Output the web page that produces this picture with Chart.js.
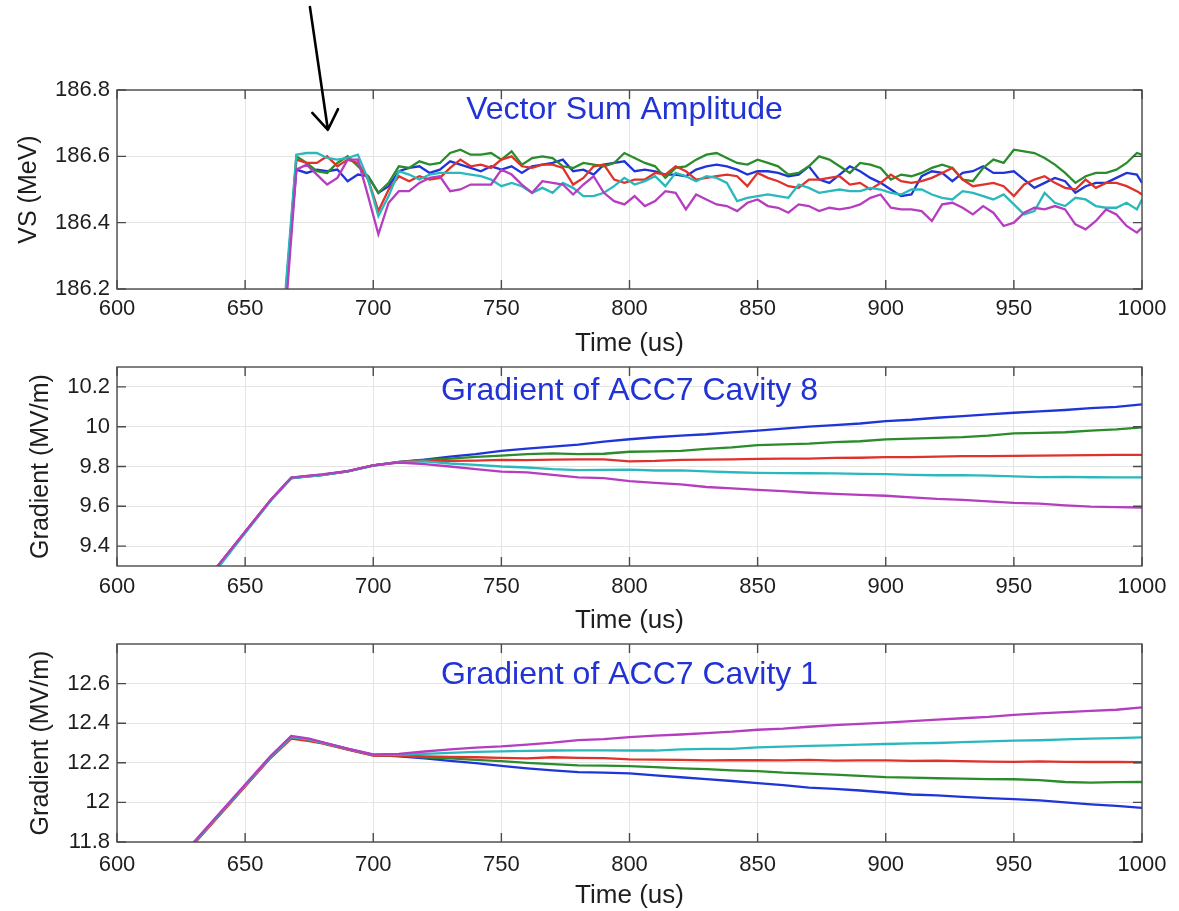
<!DOCTYPE html>
<html>
<head>
<meta charset="utf-8">
<script src="https://cdn.jsdelivr.net/npm/chart.js@4.4.1/dist/chart.umd.min.js"></script>
<style>
  body { margin: 0; background: #fff; }
  #page { position: relative; width: 1179px; height: 911px; overflow: hidden; }
  #page canvas { position: absolute; left: 0; }
</style>
</head>
<body>
<div id="page">
  <canvas id="vsChart" width="1179" height="360" style="top:0px"></canvas>
  <canvas id="cav8Chart" width="1179" height="310" style="top:330px"></canvas>
  <canvas id="cav1Chart" width="1179" height="297" style="top:614px"></canvas>
</div>
<script>
// tick labels
const timeTicks = [600, 650, 700, 750, 800, 850, 900, 950, 1000];
const vsTicks = [186.2, 186.4, 186.6, 186.8];
const cav8Ticks = [9.4, 9.6, 9.8, 10, 10.2];
const cav1Ticks = [11.8, 12, 12.2, 12.4, 12.6];

// the arrow drawn over the top panel (time, MeV)
const arrowFrom = [675.3, 187.05];
const arrowTo = [682.3, 186.68];

// vector sum amplitude, one value per entry of vsTime
const vsTime = [662, 666, 670, 674, 678, 682, 686, 690, 694, 698,
  702, 706, 710, 714, 718, 722, 726, 730, 734, 738,
  742, 746, 750, 754, 758, 762, 766, 770, 774, 778,
  782, 786, 790, 794, 798, 802, 806, 810, 814, 818,
  822, 826, 830, 834, 838, 842, 846, 850, 854, 858,
  862, 866, 870, 874, 878, 882, 886, 890, 894, 898,
  902, 906, 910, 914, 918, 922, 926, 930, 934, 938,
  942, 946, 950, 954, 958, 962, 966, 970, 974, 978,
  982, 986, 990, 994, 998, 1000];
const vsBlue = [185.8, 186.2, 186.56, 186.55, 186.56, 186.555, 186.56, 186.525, 186.545, 186.54,
  186.49, 186.51, 186.555, 186.565, 186.57, 186.55, 186.56, 186.585, 186.575, 186.565,
  186.555, 186.57, 186.56, 186.57, 186.55, 186.57, 186.575, 186.58, 186.59, 186.555,
  186.56, 186.545, 186.575, 186.58, 186.585, 186.555, 186.56, 186.555, 186.545, 186.545,
  186.54, 186.56, 186.57, 186.575, 186.57, 186.56, 186.545, 186.555, 186.555, 186.55,
  186.54, 186.545, 186.57, 186.53, 186.52, 186.545, 186.57, 186.555, 186.535, 186.52,
  186.5, 186.48, 186.485, 186.54, 186.555, 186.55, 186.525, 186.55, 186.555, 186.57,
  186.55, 186.55, 186.555, 186.53, 186.505, 186.52, 186.535, 186.525, 186.49, 186.51,
  186.52, 186.52, 186.535, 186.55, 186.545, 186.52];
const vsGreen = [185.8, 186.2, 186.6, 186.58, 186.555, 186.55, 186.58, 186.6, 186.57, 186.54,
  186.49, 186.52, 186.57, 186.565, 186.585, 186.575, 186.58, 186.61, 186.62, 186.605,
  186.605, 186.61, 186.59, 186.615, 186.575, 186.595, 186.6, 186.595, 186.57, 186.565,
  186.58, 186.575, 186.57, 186.58, 186.61, 186.595, 186.58, 186.57, 186.535, 186.565,
  186.57, 186.59, 186.605, 186.61, 186.595, 186.58, 186.575, 186.59, 186.58, 186.57,
  186.545, 186.55, 186.57, 186.6, 186.59, 186.57, 186.55, 186.58, 186.575, 186.565,
  186.53, 186.545, 186.54, 186.55, 186.565, 186.575, 186.565, 186.53, 186.525, 186.565,
  186.59, 186.58, 186.62, 186.615, 186.61, 186.595, 186.575, 186.55, 186.52, 186.54,
  186.55, 186.55, 186.56, 186.58, 186.61, 186.605];
const vsRed = [185.8, 186.18, 186.59, 186.58, 186.58, 186.6, 186.57, 186.59, 186.58, 186.53,
  186.435, 186.5, 186.54, 186.525, 186.54, 186.53, 186.535, 186.565, 186.59, 186.57,
  186.575, 186.565, 186.59, 186.6, 186.57, 186.565, 186.575, 186.575, 186.565, 186.515,
  186.535, 186.57, 186.575, 186.53, 186.52, 186.53, 186.53, 186.55, 186.545, 186.57,
  186.555, 186.53, 186.535, 186.54, 186.545, 186.54, 186.51, 186.55, 186.535, 186.525,
  186.51, 186.505, 186.53, 186.53, 186.535, 186.54, 186.515, 186.52, 186.5, 186.52,
  186.545, 186.525, 186.52, 186.525, 186.535, 186.55, 186.565, 186.53, 186.51, 186.515,
  186.52, 186.51, 186.48, 186.515, 186.53, 186.54, 186.52, 186.505, 186.5, 186.53,
  186.505, 186.52, 186.52, 186.51, 186.495, 186.485];
const vsCyan = [185.82, 186.22, 186.605, 186.61, 186.61, 186.595, 186.59, 186.595, 186.605, 186.53,
  186.42, 186.48, 186.555, 186.545, 186.53, 186.545, 186.55, 186.55, 186.55, 186.545,
  186.54, 186.53, 186.51, 186.52, 186.51, 186.49, 186.505, 186.49, 186.52, 186.505,
  186.48, 186.48, 186.49, 186.51, 186.535, 186.515, 186.525, 186.54, 186.51, 186.55,
  186.54, 186.525, 186.54, 186.535, 186.52, 186.465, 186.475, 186.48, 186.485, 186.48,
  186.475, 186.515, 186.505, 186.49, 186.495, 186.5, 186.495, 186.495, 186.505, 186.5,
  186.49, 186.485, 186.5, 186.5, 186.485, 186.475, 186.47, 186.495, 186.49, 186.48,
  186.47, 186.485, 186.455, 186.425, 186.435, 186.49, 186.46, 186.45, 186.475, 186.47,
  186.45, 186.445, 186.445, 186.46, 186.44, 186.47];
const vsMagenta = [185.78, 186.15, 186.56, 186.575, 186.545, 186.515, 186.535, 186.59, 186.59, 186.48,
  186.365, 186.46, 186.495, 186.495, 186.52, 186.535, 186.54, 186.495, 186.5, 186.515,
  186.515, 186.515, 186.56, 186.545, 186.515, 186.49, 186.525, 186.52, 186.515, 186.485,
  186.515, 186.54, 186.49, 186.465, 186.455, 186.48, 186.45, 186.465, 186.495, 186.49,
  186.44, 186.485, 186.47, 186.455, 186.45, 186.435, 186.46, 186.47, 186.45, 186.445,
  186.43, 186.455, 186.45, 186.435, 186.445, 186.44, 186.445, 186.455, 186.475, 186.485,
  186.445, 186.44, 186.44, 186.435, 186.405, 186.455, 186.46, 186.445, 186.425, 186.45,
  186.43, 186.39, 186.4, 186.43, 186.445, 186.44, 186.45, 186.44, 186.395, 186.38,
  186.405, 186.44, 186.425, 186.39, 186.37, 186.385];

// cavity gradients, one value per entry of gradTime
const gradTime = [620, 630, 640, 650, 660, 668, 675, 680, 690, 700,
  710, 720, 730, 740, 750, 760, 770, 780, 790, 800,
  810, 820, 830, 840, 850, 860, 870, 880, 890, 900,
  910, 920, 930, 940, 950, 960, 970, 980, 990, 1000];

const cav8Blue = [8.99, 9.15, 9.31, 9.47, 9.63, 9.742, 9.752, 9.758, 9.776, 9.806,
  9.823, 9.835, 9.85, 9.862, 9.878, 9.89, 9.9, 9.91, 9.925, 9.937,
  9.947, 9.955, 9.962, 9.972, 9.98, 9.99, 10.0, 10.008, 10.016, 10.028,
  10.035, 10.045, 10.053, 10.062, 10.07, 10.077, 10.084, 10.093, 10.1, 10.112];
const cav8Green = [8.99, 9.15, 9.31, 9.47, 9.632, 9.744, 9.751, 9.757, 9.775, 9.805,
  9.822, 9.833, 9.84, 9.848, 9.855, 9.862, 9.866, 9.862, 9.864, 9.874,
  9.876, 9.879, 9.889, 9.896, 9.907, 9.911, 9.915, 9.922, 9.927, 9.936,
  9.94, 9.944, 9.948, 9.955, 9.966, 9.969, 9.972, 9.98, 9.987, 9.997];
const cav8Red = [8.99, 9.15, 9.31, 9.472, 9.632, 9.742, 9.753, 9.759, 9.777, 9.806,
  9.822, 9.83, 9.828, 9.83, 9.833, 9.832, 9.835, 9.836, 9.836, 9.826,
  9.828, 9.833, 9.835, 9.836, 9.838, 9.84, 9.84, 9.843, 9.844, 9.847,
  9.847, 9.85, 9.852, 9.852, 9.853, 9.855, 9.856, 9.857, 9.858, 9.858];
const cav8Cyan = [8.98, 9.14, 9.30, 9.465, 9.628, 9.74, 9.75, 9.757, 9.775, 9.804,
  9.822, 9.826, 9.815, 9.808, 9.8, 9.795, 9.787, 9.782, 9.783, 9.784,
  9.78, 9.781, 9.776, 9.771, 9.768, 9.767, 9.766, 9.765, 9.763, 9.762,
  9.758, 9.756, 9.757, 9.754, 9.75, 9.747, 9.748, 9.746, 9.745, 9.745];
const cav8Magenta = [8.99, 9.152, 9.312, 9.472, 9.633, 9.744, 9.754, 9.76, 9.777, 9.806,
  9.82, 9.812, 9.8, 9.787, 9.774, 9.77, 9.758, 9.745, 9.742, 9.727,
  9.718, 9.71, 9.697, 9.69, 9.683, 9.676, 9.668, 9.662, 9.657, 9.653,
  9.645, 9.637, 9.632, 9.625, 9.617, 9.613, 9.605, 9.598, 9.596, 9.594];

const cav1Blue = [11.65, 11.795, 11.94, 12.085, 12.23, 12.333, 12.318, 12.303, 12.27, 12.24,
  12.232, 12.222, 12.21, 12.198, 12.184, 12.172, 12.162, 12.153, 12.15, 12.147,
  12.137, 12.127, 12.118, 12.108, 12.097, 12.087, 12.075, 12.068, 12.06, 12.05,
  12.04, 12.035, 12.028, 12.022, 12.017, 12.01, 12.0, 11.99, 11.982, 11.972];
const cav1Green = [11.648, 11.793, 11.938, 12.083, 12.228, 12.33, 12.316, 12.3, 12.268, 12.238,
  12.235, 12.228, 12.222, 12.215, 12.208, 12.2, 12.193, 12.187, 12.186, 12.183,
  12.178, 12.172, 12.168, 12.162, 12.158, 12.15, 12.145, 12.14, 12.134, 12.128,
  12.125, 12.122, 12.12, 12.118, 12.117, 12.112, 12.103, 12.1, 12.102, 12.103];
const cav1Red = [11.645, 11.79, 11.935, 12.08, 12.225, 12.322, 12.31, 12.298, 12.266, 12.236,
  12.236, 12.232, 12.23, 12.228, 12.225, 12.222, 12.228, 12.225, 12.224, 12.217,
  12.216, 12.215, 12.212, 12.214, 12.213, 12.212, 12.215, 12.211, 12.212, 12.212,
  12.21, 12.211, 12.208, 12.206, 12.205, 12.207, 12.205, 12.204, 12.204, 12.203];
const cav1Cyan = [11.65, 11.795, 11.94, 12.085, 12.23, 12.33, 12.317, 12.302, 12.27, 12.24,
  12.24, 12.245, 12.25, 12.255, 12.258, 12.26, 12.262, 12.263, 12.263, 12.262,
  12.262, 12.268, 12.27, 12.27, 12.278, 12.282, 12.285, 12.288, 12.292, 12.295,
  12.298, 12.3, 12.304, 12.308, 12.312, 12.314, 12.318, 12.322, 12.325, 12.328];
const cav1Magenta = [11.655, 11.8, 11.945, 12.09, 12.235, 12.336, 12.322, 12.305, 12.272, 12.242,
  12.245, 12.257, 12.268, 12.277, 12.283, 12.292, 12.302, 12.315, 12.32, 12.33,
  12.337, 12.343, 12.35, 12.357, 12.367, 12.373, 12.382, 12.39, 12.397, 12.403,
  12.41, 12.418, 12.425, 12.432, 12.442, 12.45, 12.456, 12.462, 12.468, 12.48];

// styles
const lineColors = ['#1f35d8', '#2a8c2a', '#e0312b', '#2ab8bc', '#b63cc0'];
const textColor = '#1e1e1e';
const axisColor = '#4a4a4a';
const gridColor = '#e4e4e4';
const fontFamily = '"Liberation Sans", Arial, Helvetica, sans-serif';

// box round the plot with inward ticks on all four sides
const boxPlugin = {
    id: 'matlabBox',
    afterDatasetsDraw(chart) {
        const ctx = chart.ctx;
        const a = chart.chartArea;
        const x = chart.scales.x;
        const y = chart.scales.y;
        ctx.save();
        ctx.strokeStyle = axisColor;
        ctx.lineWidth = 1.4;
        ctx.strokeRect(a.left, a.top, a.right - a.left, a.bottom - a.top);
        ctx.beginPath();
        x.ticks.forEach(t => {
            const px = x.getPixelForValue(t.value);
            ctx.moveTo(px, a.bottom); ctx.lineTo(px, a.bottom - 9);
            ctx.moveTo(px, a.top); ctx.lineTo(px, a.top + 9);
        });
        y.ticks.forEach(t => {
            const py = y.getPixelForValue(t.value);
            ctx.moveTo(a.left, py); ctx.lineTo(a.left + 9, py);
            ctx.moveTo(a.right, py); ctx.lineTo(a.right - 9, py);
        });
        ctx.stroke();
        ctx.restore();
    }
};

// blue title written inside the plot area
const titlePlugin = {
    id: 'panelTitle',
    afterDraw(chart, args, opts) {
        const ctx = chart.ctx;
        const a = chart.chartArea;
        ctx.save();
        ctx.font = '32px ' + fontFamily;
        ctx.fillStyle = '#2233d6';
        ctx.textAlign = 'center';
        ctx.textBaseline = 'middle';
        ctx.fillText(opts.text, (a.left + a.right) / 2 + (opts.shift || 0), a.top + opts.offset);
        ctx.restore();
    }
};

// hand drawn arrow pointing at the first ripple
const arrowPlugin = {
    id: 'arrowNote',
    afterDraw(chart) {
        const ctx = chart.ctx;
        const x = chart.scales.x;
        const y = chart.scales.y;
        const x0 = x.getPixelForValue(arrowFrom[0]), y0 = y.getPixelForValue(arrowFrom[1]);
        const x1 = x.getPixelForValue(arrowTo[0]), y1 = y.getPixelForValue(arrowTo[1]);
        const ang = Math.atan2(y1 - y0, x1 - x0);
        ctx.save();
        ctx.strokeStyle = '#000';
        ctx.lineWidth = 2.6;
        ctx.lineCap = 'round';
        ctx.lineJoin = 'round';
        ctx.beginPath();
        ctx.moveTo(x0, y0);
        ctx.lineTo(x1, y1);
        [-1, 1].forEach(s => {
            const w = ang + Math.PI + s * 0.6;
            ctx.moveTo(x1, y1);
            ctx.lineTo(x1 + 23 * Math.cos(w), y1 + 23 * Math.sin(w));
        });
        ctx.stroke();
        ctx.restore();
    }
};

function buildPanel(canvasId, time, series, yMin, yMax, yTicks, opts, extraPlugins) {
    return new Chart(document.getElementById(canvasId), {
        type: 'line',
        data: {
            datasets: series.map((vals, i) => ({
                data: vals.map((v, j) => ({ x: time[j], y: v })),
                borderColor: lineColors[i],
                borderWidth: 2.3,
                pointRadius: 0,
                tension: 0,
                fill: false,
                order: series.length - i   //later series drawn on top
            }))
        },
        options: {
            responsive: false,
            animation: false,
            devicePixelRatio: 1,
            layout: { padding: { top: opts.top, right: 37, left: 0, bottom: 0 } },
            plugins: {
                legend: { display: false },
                tooltip: { enabled: false },
                panelTitle: { text: opts.title, offset: opts.titleOffset, shift: opts.titleShift }
            },
            scales: {
                x: {
                    type: 'linear',
                    min: 600,
                    max: 1000,
                    afterBuildTicks: s => { s.ticks = timeTicks.map(v => ({ value: v })); },
                    afterFit: s => { s.height = opts.xHeight; },
                    grid: { color: gridColor, drawTicks: false },
                    border: { display: false },
                    ticks: {
                        padding: opts.tickPad, color: textColor, font: { family: fontFamily, size: 22 },
                        callback: v => String(v)
                    },
                    title: {
                        display: true, text: 'Time (us)', color: textColor,
                        font: { family: fontFamily, size: 26 },
                        padding: { top: 0, bottom: opts.xTitlePad }
                    }
                },
                y: {
                    type: 'linear',
                    min: yMin,
                    max: yMax,
                    afterBuildTicks: s => { s.ticks = yTicks.map(v => ({ value: v })); },
                    afterFit: s => { s.width = 117; },
                    grid: { color: gridColor, drawTicks: false },
                    border: { display: false },
                    ticks: {
                        padding: 7, color: textColor, font: { family: fontFamily, size: 22 },
                        callback: v => String(Math.round(v * 10) / 10)
                    },
                    title: {
                        display: true, text: opts.yLabel, color: textColor,
                        font: { family: fontFamily, size: 25 },
                        padding: { top: opts.yTitlePad, bottom: 0 }
                    }
                }
            }
        },
        plugins: [boxPlugin, titlePlugin].concat(extraPlugins || [])
    });
}

buildPanel('vsChart', vsTime, [vsBlue, vsGreen, vsRed, vsCyan, vsMagenta], 186.2, 186.8, vsTicks, {
    top: 90, xHeight: 71, tickPad: 7, xTitlePad: 1, yTitlePad: 14,
    yLabel: 'VS (MeV)', title: 'Vector Sum Amplitude', titleOffset: 20, titleShift: -5
}, [arrowPlugin]);

buildPanel('cav8Chart', gradTime, [cav8Blue, cav8Green, cav8Red, cav8Cyan, cav8Magenta], 9.3, 10.3, cav8Ticks, {
    top: 37, xHeight: 74, tickPad: 8, xTitlePad: 4, yTitlePad: 26,
    yLabel: 'Gradient (MV/m)', title: 'Gradient of ACC7 Cavity 8', titleOffset: 24
});

buildPanel('cav1Chart', gradTime, [cav1Blue, cav1Green, cav1Red, cav1Cyan, cav1Magenta], 11.8, 12.8, cav1Ticks, {
    top: 30, xHeight: 69, tickPad: 10, xTitlePad: 0, yTitlePad: 26,
    yLabel: 'Gradient (MV/m)', title: 'Gradient of ACC7 Cavity 1', titleOffset: 31
});
</script>
</body>
</html>
